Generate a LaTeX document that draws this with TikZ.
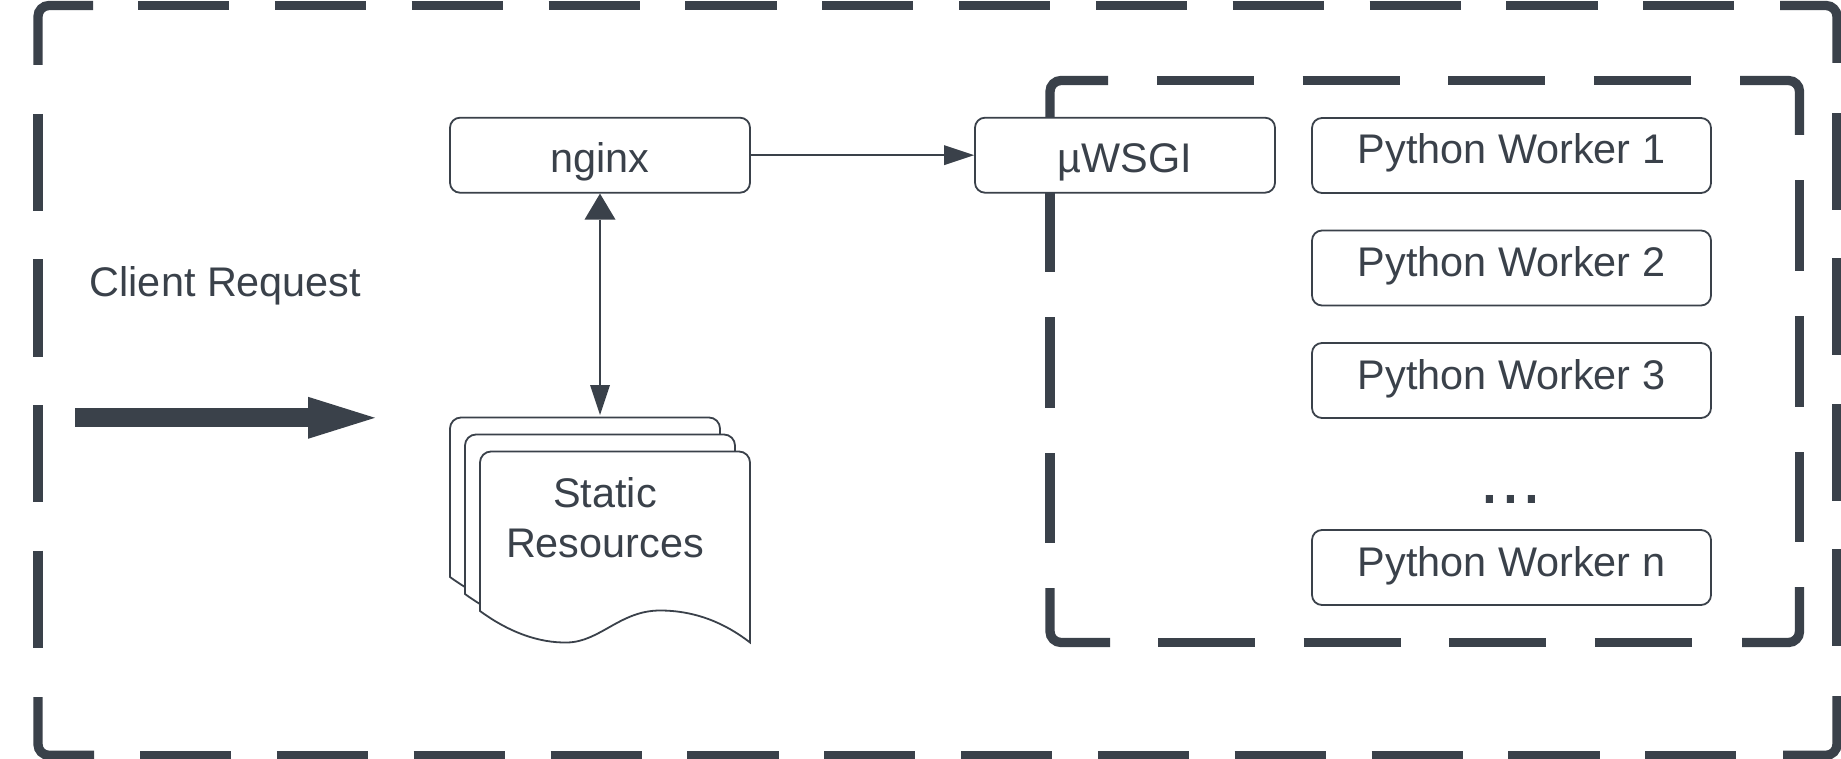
\documentclass[tikz,border=0pt]{standalone}
\usepackage{fontspec}
\setmainfont{Liberation Sans}
\usepackage{xcolor}
\usetikzlibrary{positioning}
\usetikzlibrary{arrows.meta}
\definecolor{slate}{HTML}{3A414A}
\tikzset{
	frameline/.style={draw=slate, line width=4.65pt, rounded corners=5.5pt},
	outerh/.style={dash pattern=on 45.6pt off 22.82pt},
	outerv/.style={dash pattern=on 48.5pt off 24.25pt},
	innerh/.style={dash pattern=on 48.6pt off 24.2pt},
	innerv/.style={dash pattern=on 45.5pt off 22.4pt},
	box/.style={draw=slate, fill=white, line width=0.9pt, rounded corners=5pt, text=slate, inner sep=0pt,
		font=\fontsize{20.7pt}{25pt}\selectfont, text height=27.5pt, text depth=10pt, minimum width=150pt},
	worker/.style={box, text height=23pt, text depth=14.5pt, minimum width=199.5pt},
	sheet/.style={draw=slate, fill=white, line width=0.9pt},
	link/.style={draw=slate, line width=0.9pt},
	caption/.style={text=slate, inner sep=0pt, font=\fontsize{20.7pt}{25pt}\selectfont},
}
\begin{document}
\begin{tikzpicture}[x=0.5pt, y=-0.5pt]
	\useasboundingbox (0,0) rectangle (1841,759);

	\draw[frameline] (38,65) -- (38,5.5) -- (93,5.5);
	\draw[frameline] (1780,5.5) -- (1837,5.5) -- (1837,63);
	\draw[frameline] (38,697) -- (38,755.3) -- (94,755.3);
	\draw[frameline] (1783,755.3) -- (1837,755.3) -- (1837,696);
	\draw[frameline, outerh] (138,5.5) -- (1735,5.5);
	\draw[frameline, outerh] (140,755.3) -- (1737,755.3);
	\draw[frameline, outerv] (38,114) -- (38,649);
	\draw[frameline, outerv] (1837,112.7) -- (1837,647.5);

	\draw[frameline] (1050,136) -- (1050,80.5) -- (1108,80.5);
	\draw[frameline] (1740,80.5) -- (1799.5,80.5) -- (1799.5,135);
	\draw[frameline] (1050,588) -- (1050,642.5) -- (1110,642.5);
	\draw[frameline] (1742,642.5) -- (1799.5,642.5) -- (1799.5,587);
	\draw[frameline, innerh] (1157,80.5) -- (1692,80.5);
	\draw[frameline, innerh] (1158,642.5) -- (1693,642.5);
	\draw[frameline, innerv] (1050,181.5) -- (1050,543);
	\draw[frameline, innerv] (1799.5,180.5) -- (1799.5,542);

	\foreach \dx/\dy in {0/0,15/17,30/34}
		\draw[sheet, shift={(\dx,\dy)}] (450,577) [rounded corners=5.5pt] -- (450,417.5) -- (720,417.5) [sharp corners] -- (720,608.5)
			.. controls (695,589) and (665,576.5) .. (630,576.5)
			.. controls (590,576.5) and (570,608) .. (537,608.5)
			.. controls (510,609) and (480,599) .. (450,577) -- cycle;

	\node[box] (nginx) at (600,155.2) {nginx};
	\node[box] (uwsgi) at (1125,155.2) {µWSGI};
	\node[worker] (worker1) at (1511.5,155.5) {Python Worker 1};
	\node[worker, below=17.85pt of worker1] (worker2) {Python Worker 2};
	\node[worker, below=17.85pt of worker2] (worker3) {Python Worker 3};
	\node[worker, below=55.1pt of worker3] (workern) {Python Worker n};
	\node[caption, anchor=base, font=\fontsize{37.5pt}{40pt}\selectfont] (dots) at (1511,503) {...};

	\node[caption, anchor=base] (client) at (225.5,297) {Client Request};
	\node[caption, align=center] (static) at (605,518) {Static\\Resources};

	\coordinate (docs) at (600,415);
	\coordinate (reqstart) at (75,417.8);
	\coordinate (reqend) at (375,417.8);

	\draw[link, -{Triangle[length=15pt,width=10pt,line width=0pt]}] (nginx.east) -- (uwsgi.west);
	\draw[link, {Triangle[length=13pt,width=15.5pt,line width=0pt]}-{Triangle[length=15pt,width=10pt,line width=0pt]}] (nginx.south) -- (docs);
	\draw[draw=slate, line width=9.5pt, -{Triangle[length=33.5pt,width=21pt,line width=0pt]}] (reqstart) -- (reqend);
\end{tikzpicture}
\end{document}
